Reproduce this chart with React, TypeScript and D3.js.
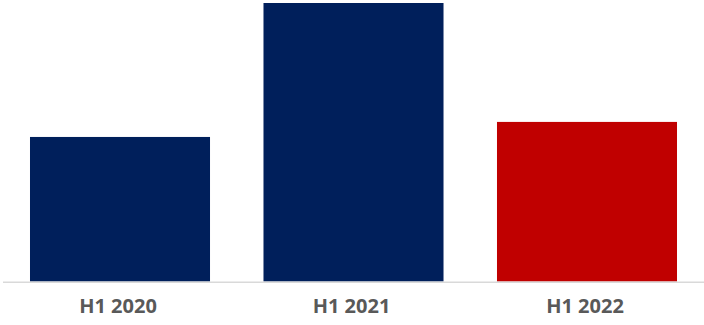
import React from "react";
import * as d3 from "d3";

const categories = ["H1 2020", "H1 2021", "H1 2022"];
const values = [51.9, 100, 57.3];
const colors = ["#001f5b", "#001f5b", "#c00000"];

export default function App() {
  const W = 704, H = 325;
  const x = d3.scaleBand<string>().domain(categories).range([3, 704]).paddingInner(0.229).paddingOuter(0.1156);
  const y = d3.scaleLinear().domain([0, 100]).range([281.5, 3]);
  return (
    <svg width={W} height={H} style={{ position: "absolute", left: 0, top: 0, display: "block" }}>
      {categories.map((c, i) => (
        <rect key={c} x={x(c)} y={y(values[i])} width={x.bandwidth()} height={y(0) - y(values[i])} fill={colors[i]} />
      ))}
      <line x1={3} x2={704} y1={282.2} y2={282.2} stroke="#d9d9d9" strokeWidth={1.5} />
      {categories.map((c) => (
        <text key={c} x={(x(c) as number) + x.bandwidth() / 2 - 2} y={313} textAnchor="middle"
          fontFamily="'Open Sans', sans-serif" fontWeight={700} fontSize={20} fill="#595959">{c}</text>
      ))}
    </svg>
  );
}
